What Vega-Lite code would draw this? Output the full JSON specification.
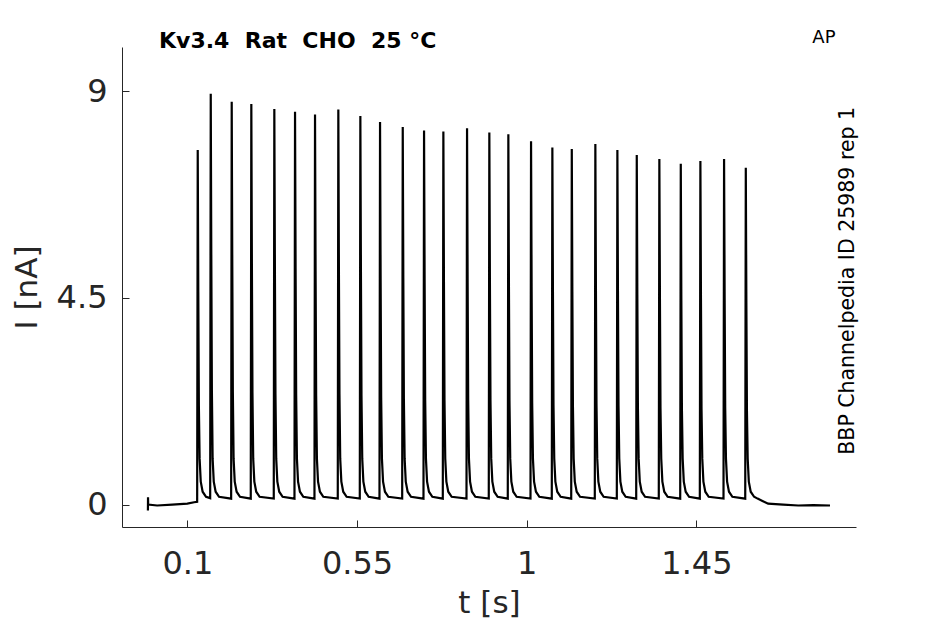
{
  "$schema": "https://vega.github.io/schema/vega-lite/v6.json",
  "width": 734,
  "height": 480,
  "autosize": {"type": "none"},
  "padding": {"left": 122, "top": 47, "right": 89, "bottom": 97},
  "background": "white",
  "datasets": {
    "trace": [
      {"t": -0.0045, "i": -0.13}, {"t": -0.0042, "i": 0.16}, {"t": -0.0038, "i": 0.0},
      {"t": 0.02, "i": -0.02}, {"t": 0.06, "i": 0.0}, {"t": 0.1, "i": 0.02}, {"t": 0.118, "i": 0.05},
      {"t": 0.1261, "i": 0.06}, {"t": 0.1276, "i": 7.72}, {"t": 0.1291, "i": 4.63}, {"t": 0.1306, "i": 2.16}, {"t": 0.1326, "i": 1.0}, {"t": 0.1356, "i": 0.5}, {"t": 0.1406, "i": 0.28}, {"t": 0.1496, "i": 0.17},
      {"t": 0.1606, "i": 0.14}, {"t": 0.1621, "i": 8.94}, {"t": 0.1636, "i": 5.36}, {"t": 0.1651, "i": 2.5}, {"t": 0.1671, "i": 1.0}, {"t": 0.1701, "i": 0.5}, {"t": 0.1751, "i": 0.28}, {"t": 0.1841, "i": 0.17},
      {"t": 0.2162, "i": 0.13}, {"t": 0.2177, "i": 8.77}, {"t": 0.2192, "i": 5.26}, {"t": 0.2207, "i": 2.46}, {"t": 0.2227, "i": 1.0}, {"t": 0.2257, "i": 0.5}, {"t": 0.2307, "i": 0.28}, {"t": 0.2397, "i": 0.17},
      {"t": 0.2682, "i": 0.13}, {"t": 0.2697, "i": 8.72}, {"t": 0.2712, "i": 5.23}, {"t": 0.2727, "i": 2.44}, {"t": 0.2747, "i": 1.0}, {"t": 0.2777, "i": 0.5}, {"t": 0.2827, "i": 0.28}, {"t": 0.2917, "i": 0.17},
      {"t": 0.3292, "i": 0.13}, {"t": 0.3307, "i": 8.61}, {"t": 0.3322, "i": 5.17}, {"t": 0.3337, "i": 2.41}, {"t": 0.3357, "i": 1.0}, {"t": 0.3387, "i": 0.5}, {"t": 0.3437, "i": 0.28}, {"t": 0.3527, "i": 0.17},
      {"t": 0.3841, "i": 0.13}, {"t": 0.3856, "i": 8.55}, {"t": 0.3871, "i": 5.13}, {"t": 0.3886, "i": 2.39}, {"t": 0.3906, "i": 1.0}, {"t": 0.3936, "i": 0.5}, {"t": 0.3986, "i": 0.28}, {"t": 0.4076, "i": 0.17},
      {"t": 0.4371, "i": 0.13}, {"t": 0.4386, "i": 8.49}, {"t": 0.4401, "i": 5.09}, {"t": 0.4416, "i": 2.38}, {"t": 0.4436, "i": 1.0}, {"t": 0.4466, "i": 0.5}, {"t": 0.4516, "i": 0.28}, {"t": 0.4606, "i": 0.17},
      {"t": 0.4989, "i": 0.13}, {"t": 0.5004, "i": 8.6}, {"t": 0.5019, "i": 5.16}, {"t": 0.5034, "i": 2.41}, {"t": 0.5054, "i": 1.0}, {"t": 0.5084, "i": 0.5}, {"t": 0.5134, "i": 0.28}, {"t": 0.5224, "i": 0.17},
      {"t": 0.5573, "i": 0.13}, {"t": 0.5588, "i": 8.46}, {"t": 0.5603, "i": 5.08}, {"t": 0.5618, "i": 2.37}, {"t": 0.5638, "i": 1.0}, {"t": 0.5668, "i": 0.5}, {"t": 0.5718, "i": 0.28}, {"t": 0.5808, "i": 0.17},
      {"t": 0.6095, "i": 0.13}, {"t": 0.611, "i": 8.33}, {"t": 0.6125, "i": 5.0}, {"t": 0.614, "i": 2.33}, {"t": 0.616, "i": 1.0}, {"t": 0.619, "i": 0.5}, {"t": 0.624, "i": 0.28}, {"t": 0.633, "i": 0.17},
      {"t": 0.6697, "i": 0.13}, {"t": 0.6712, "i": 8.22}, {"t": 0.6727, "i": 4.93}, {"t": 0.6742, "i": 2.3}, {"t": 0.6762, "i": 1.0}, {"t": 0.6792, "i": 0.5}, {"t": 0.6842, "i": 0.28}, {"t": 0.6932, "i": 0.17},
      {"t": 0.7262, "i": 0.13}, {"t": 0.7277, "i": 8.14}, {"t": 0.7292, "i": 4.88}, {"t": 0.7307, "i": 2.28}, {"t": 0.7327, "i": 1.0}, {"t": 0.7357, "i": 0.5}, {"t": 0.7407, "i": 0.28}, {"t": 0.7497, "i": 0.17},
      {"t": 0.7774, "i": 0.13}, {"t": 0.7789, "i": 8.12}, {"t": 0.7804, "i": 4.87}, {"t": 0.7819, "i": 2.27}, {"t": 0.7839, "i": 1.0}, {"t": 0.7869, "i": 0.5}, {"t": 0.7919, "i": 0.28}, {"t": 0.8009, "i": 0.17},
      {"t": 0.8402, "i": 0.13}, {"t": 0.8417, "i": 8.19}, {"t": 0.8432, "i": 4.91}, {"t": 0.8447, "i": 2.29}, {"t": 0.8467, "i": 1.0}, {"t": 0.8497, "i": 0.5}, {"t": 0.8547, "i": 0.28}, {"t": 0.8637, "i": 0.17},
      {"t": 0.8993, "i": 0.13}, {"t": 0.9008, "i": 8.1}, {"t": 0.9023, "i": 4.86}, {"t": 0.9038, "i": 2.27}, {"t": 0.9058, "i": 1.0}, {"t": 0.9088, "i": 0.5}, {"t": 0.9138, "i": 0.28}, {"t": 0.9228, "i": 0.17},
      {"t": 0.9497, "i": 0.13}, {"t": 0.9512, "i": 8.06}, {"t": 0.9527, "i": 4.84}, {"t": 0.9542, "i": 2.26}, {"t": 0.9562, "i": 1.0}, {"t": 0.9592, "i": 0.5}, {"t": 0.9642, "i": 0.28}, {"t": 0.9732, "i": 0.17},
      {"t": 1.0099, "i": 0.13}, {"t": 1.0114, "i": 7.91}, {"t": 1.0129, "i": 4.75}, {"t": 1.0144, "i": 2.21}, {"t": 1.0164, "i": 1.0}, {"t": 1.0194, "i": 0.5}, {"t": 1.0244, "i": 0.28}, {"t": 1.0334, "i": 0.17},
      {"t": 1.0664, "i": 0.13}, {"t": 1.0679, "i": 7.77}, {"t": 1.0694, "i": 4.66}, {"t": 1.0709, "i": 2.18}, {"t": 1.0729, "i": 1.0}, {"t": 1.0759, "i": 0.5}, {"t": 1.0809, "i": 0.28}, {"t": 1.0899, "i": 0.17},
      {"t": 1.1179, "i": 0.13}, {"t": 1.1194, "i": 7.74}, {"t": 1.1209, "i": 4.64}, {"t": 1.1224, "i": 2.17}, {"t": 1.1244, "i": 1.0}, {"t": 1.1274, "i": 0.5}, {"t": 1.1324, "i": 0.28}, {"t": 1.1414, "i": 0.17},
      {"t": 1.1804, "i": 0.13}, {"t": 1.1819, "i": 7.85}, {"t": 1.1834, "i": 4.71}, {"t": 1.1849, "i": 2.2}, {"t": 1.1869, "i": 1.0}, {"t": 1.1899, "i": 0.5}, {"t": 1.1949, "i": 0.28}, {"t": 1.2039, "i": 0.17},
      {"t": 1.2388, "i": 0.13}, {"t": 1.2403, "i": 7.72}, {"t": 1.2418, "i": 4.63}, {"t": 1.2433, "i": 2.16}, {"t": 1.2453, "i": 1.0}, {"t": 1.2483, "i": 0.5}, {"t": 1.2533, "i": 0.28}, {"t": 1.2623, "i": 0.17},
      {"t": 1.2902, "i": 0.13}, {"t": 1.2917, "i": 7.61}, {"t": 1.2932, "i": 4.57}, {"t": 1.2947, "i": 2.13}, {"t": 1.2967, "i": 1.0}, {"t": 1.2997, "i": 0.5}, {"t": 1.3047, "i": 0.28}, {"t": 1.3137, "i": 0.17},
      {"t": 1.3501, "i": 0.13}, {"t": 1.3516, "i": 7.52}, {"t": 1.3531, "i": 4.51}, {"t": 1.3546, "i": 2.11}, {"t": 1.3566, "i": 1.0}, {"t": 1.3596, "i": 0.5}, {"t": 1.3646, "i": 0.28}, {"t": 1.3736, "i": 0.17},
      {"t": 1.4069, "i": 0.13}, {"t": 1.4084, "i": 7.42}, {"t": 1.4099, "i": 4.45}, {"t": 1.4114, "i": 2.08}, {"t": 1.4134, "i": 1.0}, {"t": 1.4164, "i": 0.5}, {"t": 1.4214, "i": 0.28}, {"t": 1.4304, "i": 0.17},
      {"t": 1.4589, "i": 0.13}, {"t": 1.4604, "i": 7.48}, {"t": 1.4619, "i": 4.49}, {"t": 1.4634, "i": 2.09}, {"t": 1.4654, "i": 1.0}, {"t": 1.4684, "i": 0.5}, {"t": 1.4734, "i": 0.28}, {"t": 1.4824, "i": 0.17},
      {"t": 1.5217, "i": 0.13}, {"t": 1.5232, "i": 7.52}, {"t": 1.5247, "i": 4.51}, {"t": 1.5262, "i": 2.11}, {"t": 1.5282, "i": 1.0}, {"t": 1.5312, "i": 0.5}, {"t": 1.5362, "i": 0.28}, {"t": 1.5452, "i": 0.17},
      {"t": 1.5793, "i": 0.13}, {"t": 1.5808, "i": 7.33}, {"t": 1.5823, "i": 4.4}, {"t": 1.5838, "i": 2.05}, {"t": 1.5858, "i": 1.0}, {"t": 1.5888, "i": 0.5}, {"t": 1.5938, "i": 0.28}, {"t": 1.6028, "i": 0.17},
      {"t": 1.612, "i": 0.13}, {"t": 1.625, "i": 0.08}, {"t": 1.64, "i": 0.02}, {"t": 1.68, "i": 0.0}, {"t": 1.72, "i": -0.02}, {"t": 1.76, "i": -0.01}, {"t": 1.804, "i": -0.02}
    ]
  },
  "layer": [
    {
      "data": {"name": "trace"},
      "mark": {"type": "line", "color": "#000000", "strokeWidth": 2.2, "interpolate": "linear"},
      "encoding": {
        "x": {
          "field": "t",
          "type": "quantitative",
          "scale": {"domain": [-0.0732, 1.873], "nice": false, "zero": false},
          "axis": {
            "title": "t [s]",
            "values": [0.1, 0.55, 1, 1.45],
            "labelExpr": "datum.value",
            "grid": false,
            "domainColor": "#262626",
            "tickColor": "#262626",
            "tickSize": -7,
            "labelPadding": 28,
            "labelColor": "#262626",
            "labelFont": "DejaVu Sans",
            "labelFontSize": 32,
            "titleFont": "DejaVu Sans",
            "titleFontSize": 31,
            "titleFontWeight": "normal",
            "titleColor": "#262626",
            "titlePadding": 9
          }
        },
        "y": {
          "field": "i",
          "type": "quantitative",
          "scale": {"domain": [-0.488, 9.96], "nice": false, "zero": false},
          "axis": {
            "title": "I [nA]",
            "values": [0, 4.5, 9],
            "labelExpr": "datum.value",
            "grid": false,
            "domainColor": "#262626",
            "tickColor": "#262626",
            "tickSize": -7,
            "labelPadding": 22,
            "labelColor": "#262626",
            "labelFont": "DejaVu Sans",
            "labelFontSize": 32,
            "titleFont": "DejaVu Sans",
            "titleFontSize": 31,
            "titleFontWeight": "normal",
            "titleColor": "#262626",
            "titlePadding": 13
          }
        }
      }
    },
    {
      "data": {"values": [{}]},
      "mark": {"type": "text", "text": "Kv3.4\u00a0\u00a0Rat\u00a0\u00a0CHO\u00a0\u00a025\u00a0°C", "font": "DejaVu Sans", "fontSize": 22, "fontWeight": "bold", "color": "#000000", "align": "left", "baseline": "middle"},
      "encoding": {
        "x": {"datum": 0.025, "type": "quantitative"},
        "y": {"datum": 10.1, "type": "quantitative"}
      }
    },
    {
      "data": {"values": [{}]},
      "mark": {"type": "text", "text": "AP", "font": "DejaVu Sans", "fontSize": 18, "color": "#000000", "align": "center", "baseline": "middle"},
      "encoding": {
        "x": {"datum": 1.788, "type": "quantitative"},
        "y": {"datum": 10.15, "type": "quantitative"}
      }
    },
    {
      "data": {"values": [{}]},
      "mark": {"type": "text", "text": "BBP Channelpedia ID 25989 rep 1", "font": "DejaVu Sans", "fontSize": 20.5, "color": "#000000", "align": "center", "baseline": "middle", "angle": 270},
      "encoding": {
        "x": {"datum": 1.852, "type": "quantitative"},
        "y": {"datum": 4.87, "type": "quantitative"}
      }
    }
  ],
  "config": {
    "view": {"stroke": null},
    "axis": {"domainWidth": 1, "tickWidth": 1}
  }
}
